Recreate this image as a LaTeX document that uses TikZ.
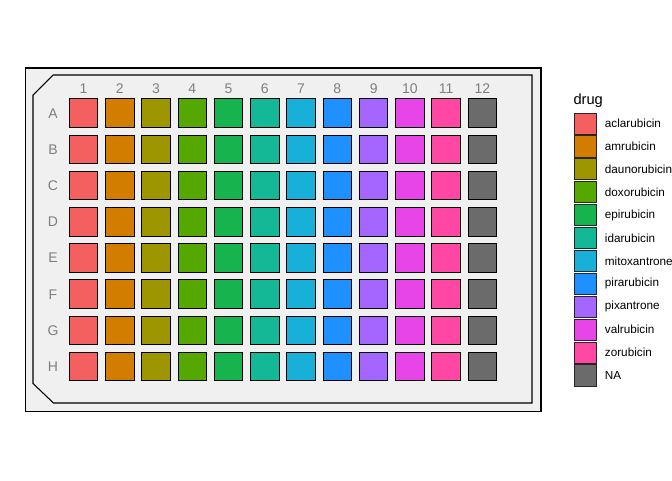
\documentclass[tikz,border=0pt]{standalone}
\usepackage{fontspec}
\setmainfont{Liberation Sans}
\usetikzlibrary{positioning}
\definecolor{caclarubicin}{HTML}{F4605F}
\definecolor{camrubicin}{HTML}{D27C00}
\definecolor{cdaunorubicin}{HTML}{9E9600}
\definecolor{cdoxorubicin}{HTML}{55A800}
\definecolor{cepirubicin}{HTML}{16B34E}
\definecolor{cidarubicin}{HTML}{15B896}
\definecolor{cmitoxantrone}{HTML}{18AFD8}
\definecolor{cpirarubicin}{HTML}{1E90FF}
\definecolor{cpixantrone}{HTML}{A566FF}
\definecolor{cvalrubicin}{HTML}{E845E8}
\definecolor{czorubicin}{HTML}{FF47A3}
\definecolor{cNA}{HTML}{6B6B6B}
\definecolor{platebg}{HTML}{F0F0F0}
\definecolor{labelgrey}{HTML}{7F7F7F}
\tikzset{
  every picture/.style={line width=0.8pt},
  well/.style={draw=black, fill=#1, minimum size=21.4pt, inner sep=0pt},
  key/.style={draw=black!85, fill=#1, minimum width=16.5pt, minimum height=15.8pt, inner sep=0pt, line width=0.6pt},
  axislabel/.style={font=\fontsize{10.5}{12}\selectfont, text=labelgrey, inner sep=0pt},
  keylabel/.style={font=\fontsize{8.8}{10}\selectfont, inner sep=0pt, anchor=west},
  title/.style={font=\fontsize{11}{13}\selectfont, inner sep=0pt, anchor=base west},
}

\begin{document}
\begin{tikzpicture}[x=0.75pt, y=-0.75pt]
  \useasboundingbox (0,0) rectangle (672,480);
  % plate
  \draw[fill=platebg] (25.5,68) rectangle (541,411.5);
  \draw (53,75) -- (532,75) -- (532,403) -- (53.5,403) -- (33,383.5) -- (33,95) -- cycle;
  % wells
  \foreach \drug [count=\c] in {aclarubicin,amrubicin,daunorubicin,doxorubicin,epirubicin,idarubicin,mitoxantrone,pirarubicin,pixantrone,valrubicin,zorubicin,NA}{
    \node[axislabel] (col\c) at ({83.5+36.27*(\c-1)}, 89) {\c};
    \foreach \r [count=\j] in {A,B,C,D,E,F,G,H}{
      \node[well=c\drug] (\r\c) at ({83.5+36.27*(\c-1)}, {113.2+36.2*(\j-1)}) {};
    }
  }
  \foreach \r [count=\j] in {A,B,C,D,E,F,G,H}
    \node[axislabel] (row\r) at (53, {113.2+36.2*(\j-1)}) {\r};
  % legend
  \node[title] (legtitle) at (573,104) {drug};
  \foreach \drug [count=\i] in {aclarubicin,amrubicin,daunorubicin,doxorubicin,epirubicin,idarubicin,mitoxantrone,pirarubicin,pixantrone,valrubicin,zorubicin,NA}{
    \node[key=c\drug] (key\i) at (585, {123.5+22.9*(\i-1)}) {};
    \node[keylabel, right=6pt of key\i] (lab\i) {\drug};
  }
\end{tikzpicture}
\end{document}
